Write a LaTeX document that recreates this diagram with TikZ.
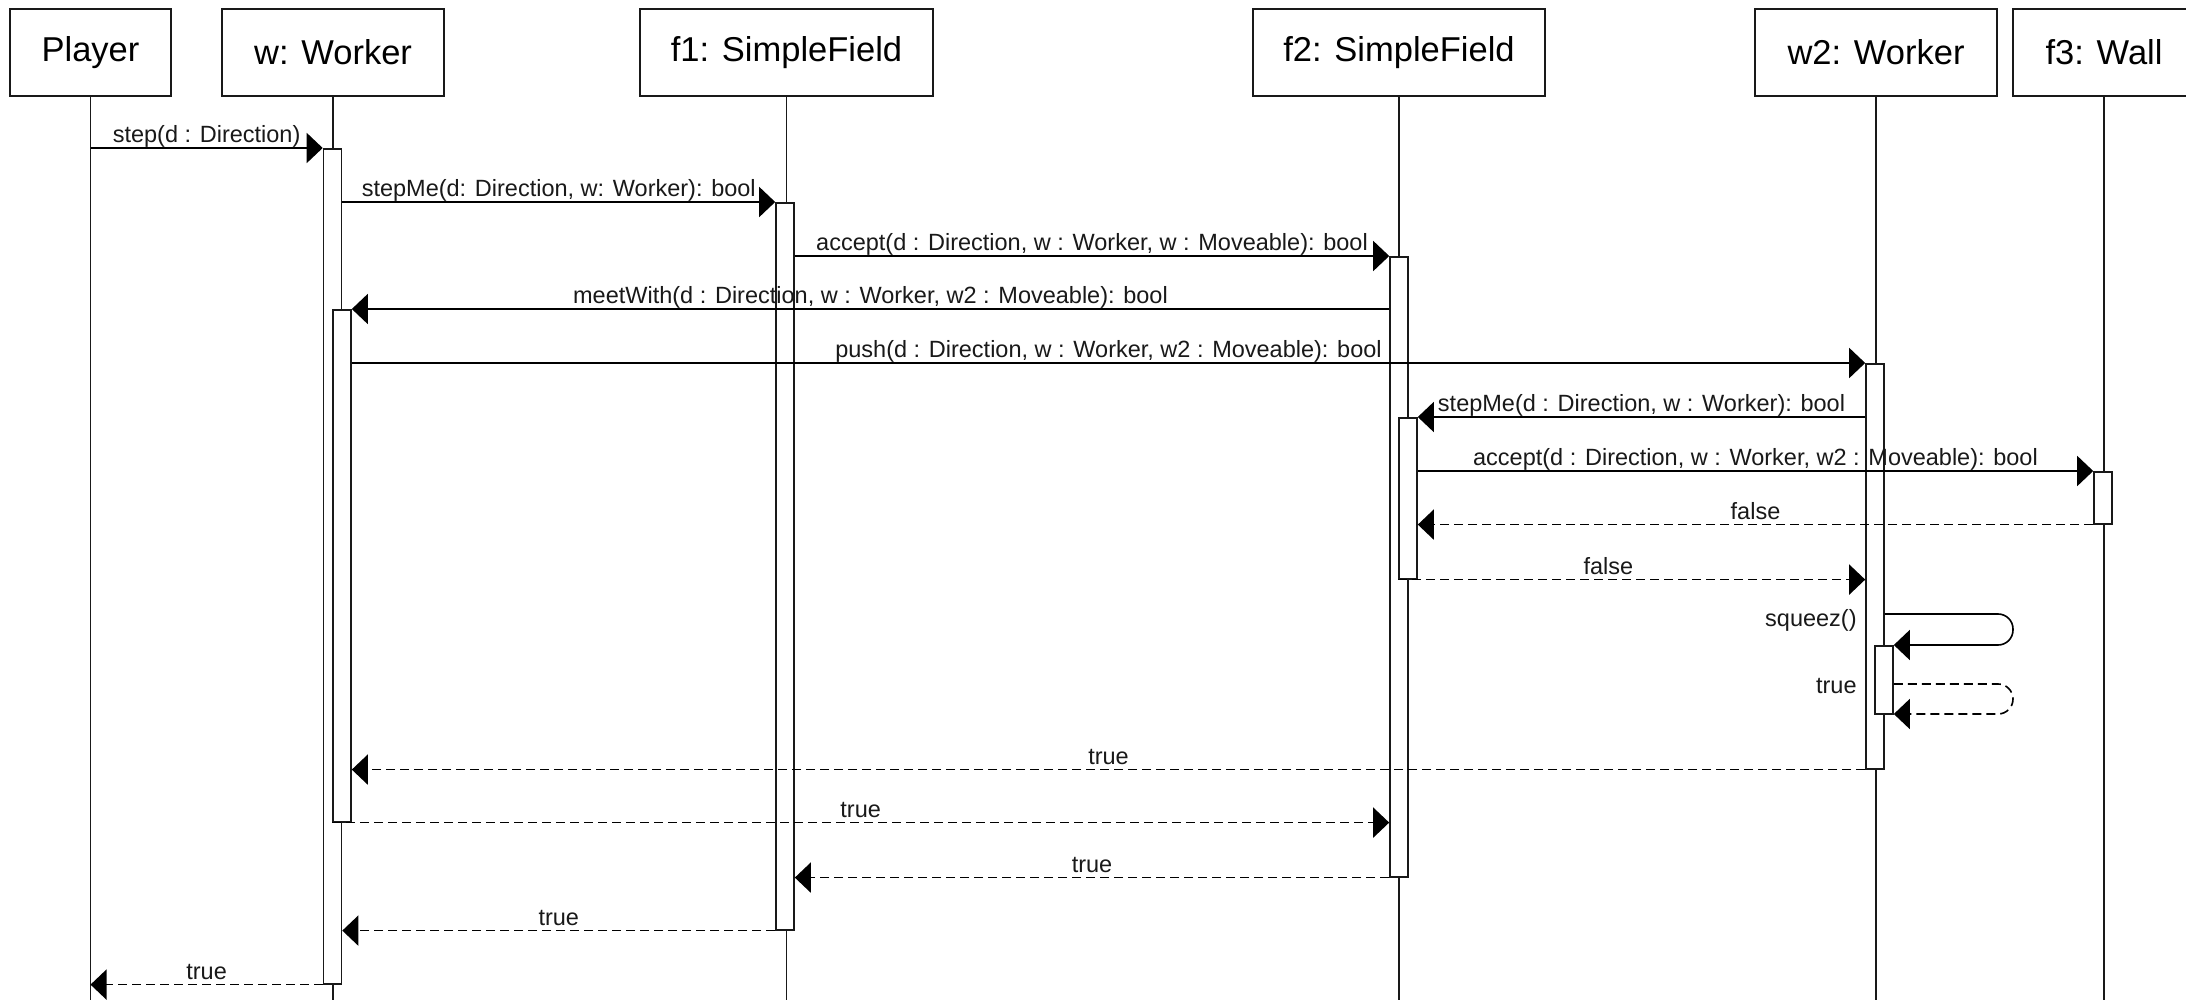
\documentclass[tikz,border=0pt]{standalone}
\usepackage{fontspec}
\setmainfont{Liberation Sans}
\usetikzlibrary{arrows.meta}
\begin{document}
\begin{tikzpicture}[x=0.5pt,y=-0.5pt,
  head/.style={draw=black!90, line width=1pt, fill=white, minimum height=43.5pt, inner sep=0pt, font=\fontsize{17.25}{20}\selectfont, anchor=north west},
  life/.style={draw=black!90, line width=0.75pt},
  actbox/.style={draw=black!90, line width=0.8pt, fill=white, minimum width=9pt, inner sep=0pt, anchor=north},
  msg/.style={draw=black, line width=0.8pt, -{Triangle[length=8pt,width=15pt]}},
  ret/.style={msg, dash pattern=on 4.5pt off 2.5pt},
  lab/.style={font=\fontsize{11.75}{14}\selectfont, anchor=base, inner sep=0pt, yshift=2.75pt, text=black!90},
  sidelab/.style={font=\fontsize{11.75}{14}\selectfont, anchor=base east, inner sep=0pt, text=black!90}]
\useasboundingbox (0,0) rectangle (2186,1000);
\fill[white] (0,0) rectangle (2186,1000);
\coordinate (bot) at (0,1000);
% heads
\node[head, minimum width=80.5pt] (P) at (9,8) {Player};
\node[head, minimum width=111pt] (W) at (221,8) {w: Worker};
\node[head, minimum width=146.5pt] (F1) at (639,8) {f1: SimpleField};
\node[head, minimum width=146pt] (F2) at (1252,8) {f2: SimpleField};
\node[head, minimum width=121pt] (W2) at (1754,8) {w2: Worker};
\node[head, minimum width=91pt] (F3) at (2012,8) {f3: Wall};
% lifelines
\foreach \n in {P,W,F1,F2,W2,F3} {\draw[life] (\n.south) -- (\n.south |- bot);}
% activations
\node[actbox, minimum height=417.5pt] (aW) at (332.5,148) {};
\node[actbox, minimum height=256pt] (aWn) at (342,309) {};
\node[actbox, minimum height=363.5pt] (aF1) at (785,202) {};
\node[actbox, minimum height=310pt] (aF2) at (1399,256) {};
\node[actbox, minimum height=80.5pt] (aF2n) at (1408,417) {};
\node[actbox, minimum height=202.5pt] (aW2) at (1875,363) {};
\node[actbox, minimum height=34pt] (aW2n) at (1884,645) {};
\node[actbox, minimum height=26pt] (aF3) at (2103,471) {};
% message levels
\coordinate (m1) at (0,148);
\coordinate (m2) at (0,202);
\coordinate (m3) at (0,256);
\coordinate (m4) at (0,309);
\coordinate (m5) at (0,363);
\coordinate (m6) at (0,417);
\coordinate (m7) at (0,471);
\coordinate (c1) at (2013,614);
\coordinate (c2) at (2013,645);
\coordinate (c3) at (2013,684);
\coordinate (c4) at (2013,714);
% calls
\draw[msg] (P.south |- m1) -- node[lab]{step(d : Direction)} (aW.west |- m1);
\draw[msg] (aW.east |- m2) -- node[lab]{stepMe(d: Direction, w: Worker): bool} (aF1.west |- m2);
\draw[msg] (aF1.east |- m3) -- node[lab]{accept(d : Direction, w : Worker, w : Moveable): bool} (aF2.west |- m3);
\draw[msg] (aF2.west |- m4) -- node[lab]{meetWith(d : Direction, w : Worker, w2 : Moveable): bool} (aWn.east |- m4);
\draw[msg] (aWn.east |- m5) -- node[lab]{push(d : Direction, w : Worker, w2 : Moveable): bool} (aW2.west |- m5);
\draw[msg] (aW2.west |- m6) -- node[lab]{stepMe(d : Direction, w : Worker): bool} (aF2n.east |- m6);
\draw[msg] (aF2n.east |- m7) -- node[lab]{accept(d : Direction, w : Worker, w2 : Moveable): bool} (aF3.west |- m7);
% returns
\draw[ret] (aF3.south west) -- node[lab]{false} (aF2n.east |- aF3.south);
\draw[ret] (aF2n.south west) -- node[lab, pos=0.45]{false} (aW2.west |- aF2n.south);
% self call
\draw[msg, rounded corners=7.5pt] (aW2.east |- c1) -- (c1) -- (c2) -- (aW2n.east |- c2);
\node[sidelab] (lsq) at (1857,626) {squeez()};
\draw[ret, rounded corners=7.5pt] (aW2n.east |- c3) -- (c3) -- (c4) -- (aW2n.east |- c4);
\node[sidelab] (ltr) at (1857,693) {true};
\draw[ret] (aW2.south west) -- node[lab]{true} (aWn.east |- aW2.south);
\draw[ret] (aWn.south west) -- node[lab]{true} (aF2.west |- aWn.south);
\draw[ret] (aF2.south west) -- node[lab]{true} (aF1.east |- aF2.south);
\draw[ret] (aF1.south west) -- node[lab]{true} (aW.east |- aF1.south);
\draw[ret] (aW.south west) -- node[lab]{true} (P.south |- aW.south);
\end{tikzpicture}
\end{document}
